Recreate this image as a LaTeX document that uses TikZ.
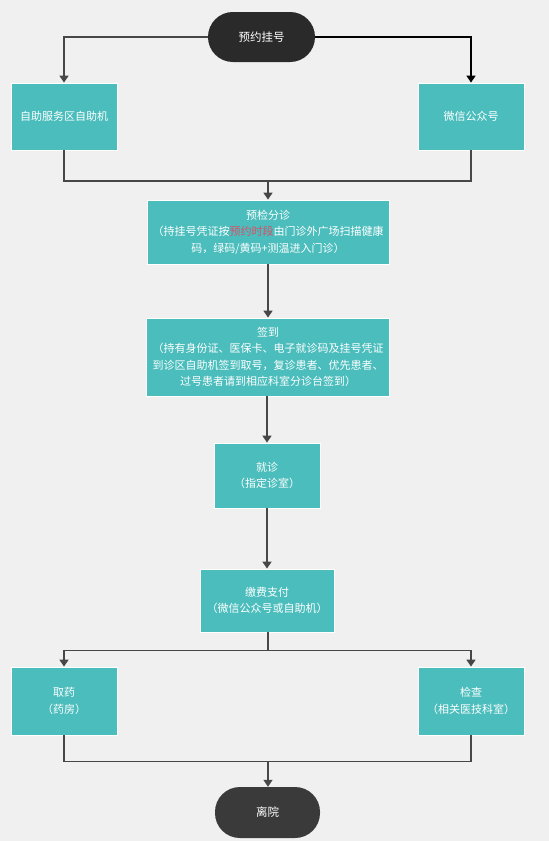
\documentclass[tikz,border=0pt]{standalone}
\usepackage{fontspec}
\setmainfont{Noto Sans CJK SC}
\usetikzlibrary{arrows.meta}
\definecolor{bg}{HTML}{F0F0F0}
\definecolor{teal}{HTML}{4ABDBC}
\definecolor{dark}{HTML}{2A2A2A}
\definecolor{darkb}{HTML}{3A3A3A}
\definecolor{ln}{HTML}{474747}
\definecolor{hl}{HTML}{D9506A}
\tikzset{
  box/.style={draw=white, line width=0.8pt, fill=teal, text=white, inner sep=0pt, align=center,
    font=\fontsize{11}{16.5}\selectfont},
  term/.style={fill=#1, text=white, inner sep=0pt, rounded corners=24.9pt, align=center,
    font=\fontsize{11.5}{14}\selectfont},
  conn/.style={draw=ln, line width=1.5pt},
  arr/.style={conn, -{Triangle[width=9pt,length=7pt]}},
}
\begin{document}
\begin{tikzpicture}[x=1pt,y=-1pt]
\fill[bg] (0,0) rectangle (549,841);
\useasboundingbox (0,0) rectangle (549,841);

\node[term=dark, minimum width=107pt, minimum height=50pt] (start) at (261.5,37) {预约挂号};
\node[box, minimum width=106pt, minimum height=67pt] (self) at (64,116.5) {自助服务区自助机};
\node[box, minimum width=106pt, minimum height=67pt] (wx) at (471,116.5) {微信公众号};
\coordinate (j1) at (268,181);
\node[box, minimum width=242pt, minimum height=64pt] (pre) at (268,232) {预检分诊\\（持挂号凭证按\textcolor{hl}{预约时段}由门诊外广场扫描健康\\码，绿码/黄码+测温进入门诊）};
\node[box, minimum width=243pt, minimum height=78pt] (sign) at (268,357) {签到\\（持有身份证、医保卡、电子就诊码及挂号凭证\\到诊区自助机签到取号，复诊患者、优先患者、\\过号患者请到相应科室分诊台签到）};
\node[box, minimum width=106pt, minimum height=65pt] (visit) at (267,475.5) {就诊\\（指定诊室）};
\node[box, minimum width=134pt, minimum height=63pt] (pay) at (267,600.5) {缴费支付\\（微信公众号或自助机）};
\coordinate (j2) at (268,650.5);
\node[box, minimum width=106pt, minimum height=68pt] (drug) at (64,701) {取药\\（药房）};
\node[box, minimum width=106pt, minimum height=68pt] (exam) at (471,701) {检查\\（相关医技科室）};
\coordinate (j3) at (268,761.5);
\node[term=darkb, minimum width=105pt, minimum height=51pt] (leave) at (267.5,812.5) {离院};

\draw[arr] (start.west) -| (self.north);
\draw[arr, draw=black] (start.east) -| (wx.north);
\draw[conn] (self.south) |- (j1);
\draw[conn] (wx.south) |- (j1);
\draw[arr] (j1) -- (pre.north);
\draw[arr] (pre.south) -- (sign.north);
\draw[arr] ([xshift=-1pt]sign.south) -- (visit.north);
\draw[arr] (visit.south) -- (pay.north);
\draw[conn] ([xshift=1pt]pay.south) -- (j2);
\draw[arr] (j2) -| (drug.north);
\draw[arr] (j2) -| (exam.north);
\draw[conn] (drug.south) |- (j3);
\draw[conn] (exam.south) |- (j3);
\draw[arr] (j3) -- ([xshift=0.5pt]leave.north);
\end{tikzpicture}
\end{document}
